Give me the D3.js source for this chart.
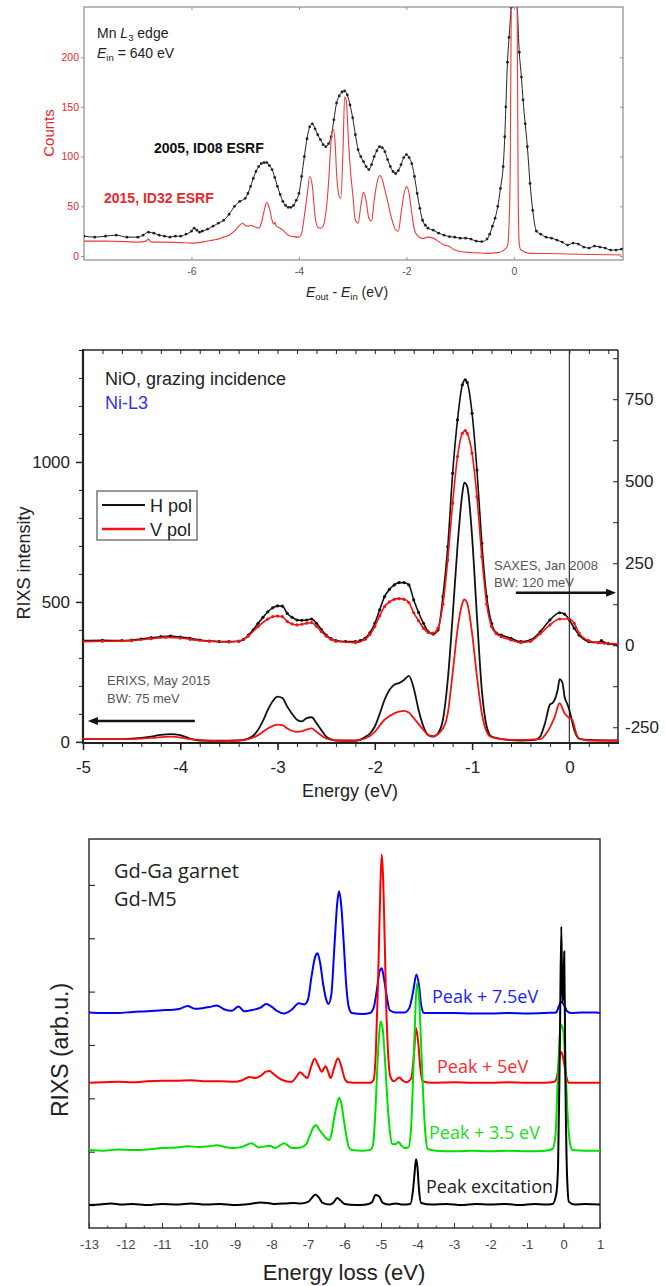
<!DOCTYPE html>
<html>
<head>
<meta charset="utf-8">
<style>
body { margin: 0; padding: 0; background: #fff; }
svg { display: block; }
text { font-family: "Liberation Sans", Arial, sans-serif; }
.cal { font-family: "Open Sans", "Noto Sans", sans-serif; }
</style>
</head>
<body>
<div id="chart"></div>
<script src="https://cdn.jsdelivr.net/npm/d3@7/dist/d3.min.js"></script>
<script>
// ---- panel 1: Mn L3, counts vs Eout-Ein ----
var p1Black = [[-8,20],[-7.8,19],[-7.6,20],[-7.4,21],[-7.2,19],[-7,19],[-6.9,21],[-6.8,24],[-6.7,23],[-6.6,21],[-6.5,20],[-6.4,19],[-6.3,20],[-6.2,20],[-6.1,22],[-6.0,25],[-5.95,28],[-5.9,26],[-5.85,24],[-5.8,25],[-5.7,27],[-5.6,30],[-5.5,33],[-5.4,36],[-5.3,42],[-5.2,50],[-5.1,55],[-5.0,58],[-4.95,63],[-4.9,70],[-4.85,78],[-4.8,85],[-4.75,90],[-4.7,93],[-4.65,94],[-4.6,94],[-4.55,91],[-4.5,87],[-4.45,79],[-4.4,70],[-4.35,62],[-4.3,55],[-4.25,51],[-4.2,49],[-4.15,49],[-4.1,51],[-4.05,56],[-4.0,63],[-3.95,80],[-3.9,100],[-3.85,118],[-3.8,130],[-3.75,133],[-3.7,128],[-3.65,122],[-3.6,117],[-3.55,112],[-3.5,110],[-3.45,113],[-3.4,120],[-3.35,137],[-3.3,154],[-3.25,161],[-3.2,165],[-3.15,166],[-3.1,162],[-3.05,152],[-3.0,139],[-2.95,122],[-2.9,107],[-2.85,100],[-2.8,95],[-2.75,90],[-2.7,87],[-2.65,92],[-2.6,100],[-2.55,106],[-2.5,110],[-2.45,109],[-2.4,105],[-2.35,97],[-2.3,90],[-2.25,85],[-2.2,83],[-2.15,86],[-2.1,92],[-2.05,99],[-2.0,102],[-1.95,99],[-1.9,93],[-1.85,80],[-1.8,63],[-1.75,48],[-1.7,36],[-1.65,31],[-1.6,28],[-1.5,26],[-1.4,23],[-1.3,21],[-1.2,19.5],[-1.1,19],[-1.0,18],[-0.9,18],[-0.8,17],[-0.7,15],[-0.6,14.5],[-0.5,17],[-0.45,22],[-0.4,30],[-0.35,38],[-0.3,50],[-0.25,68],[-0.2,90],[-0.17,120],[-0.15,150],[-0.12,195],[-0.09,220],[-0.05,250],[0.0,275],[0.05,262],[0.1,205],[0.14,180],[0.17,157],[0.21,133],[0.25,110],[0.3,73],[0.35,46],[0.42,25],[0.5,22],[0.6,19],[0.7,18],[0.8,16],[0.9,14],[1.0,11],[1.1,13],[1.2,12],[1.3,9],[1.4,8],[1.5,10],[1.6,9],[1.7,8],[1.8,6],[1.9,6],[2.0,7]];
var p1Red = [[-8,15],[-7.6,15],[-7.2,14.5],[-7,14],[-6.85,15],[-6.8,17],[-6.75,14],[-6.5,14],[-6.2,13.5],[-6.0,13],[-5.8,14],[-5.6,16],[-5.5,17],[-5.4,19],[-5.3,21],[-5.2,25],[-5.15,28],[-5.1,31],[-5.05,33],[-5.0,31],[-4.95,30],[-4.9,31],[-4.85,30],[-4.8,29],[-4.75,28],[-4.7,33],[-4.65,45],[-4.6,54],[-4.55,48],[-4.5,36],[-4.47,32],[-4.45,34],[-4.42,30],[-4.35,28],[-4.3,26],[-4.2,21],[-4.1,19.5],[-4.0,19],[-3.95,23],[-3.9,40],[-3.85,60],[-3.8,80],[-3.75,70],[-3.7,40],[-3.65,29],[-3.6,28],[-3.55,30],[-3.5,43],[-3.45,73],[-3.4,117],[-3.37,128],[-3.33,117],[-3.3,83],[-3.25,60],[-3.22,58],[-3.18,107],[-3.15,160],[-3.12,157],[-3.08,117],[-3.04,85],[-3.0,63],[-2.95,36],[-2.9,33],[-2.85,50],[-2.8,64],[-2.75,56],[-2.7,38],[-2.65,35],[-2.6,56],[-2.55,73],[-2.5,81],[-2.45,77],[-2.4,66],[-2.35,55],[-2.3,43],[-2.25,33],[-2.2,26],[-2.15,25],[-2.1,43],[-2.05,61],[-2.0,70],[-1.95,63],[-1.9,43],[-1.85,26],[-1.8,21],[-1.7,17.5],[-1.6,19],[-1.5,18],[-1.4,14.5],[-1.3,11],[-1.2,9.5],[-1.1,6],[-1.0,4.5],[-0.8,3.5],[-0.5,2.7],[-0.3,3.4],[-0.2,5.4],[-0.15,7.7],[-0.12,10],[-0.1,20],[-0.07,80],[-0.05,250],[0.0,420],[0.06,250],[0.08,60],[0.1,12],[0.13,6],[0.3,2.7],[0.6,2.5],[1.0,2],[1.5,1.5],[2.0,1]];
var p1XTicks = [-6, -4, -2, 0];
var p1YTicks = [0, 50, 100, 150, 200];

// ---- panel 2: NiO, SAXES (right axis) and ERIXS (left axis) ----
var p2SaxesH = [[-5,14],[-4.8,15],[-4.6,14],[-4.5,16],[-4.4,19],[-4.3,23],[-4.2,26],[-4.1,28],[-4.0,25],[-3.9,21],[-3.8,16],[-3.7,13],[-3.6,11],[-3.5,11],[-3.4,12],[-3.35,18],[-3.3,31],[-3.25,47],[-3.2,67],[-3.15,85],[-3.1,102],[-3.05,114],[-3.0,120],[-2.95,119],[-2.9,97],[-2.85,85],[-2.8,77],[-2.75,76],[-2.7,77],[-2.65,80],[-2.6,67],[-2.55,48],[-2.5,31],[-2.45,20],[-2.4,14],[-2.3,11],[-2.2,11],[-2.15,14],[-2.1,21],[-2.05,38],[-2.0,67],[-1.95,108],[-1.9,148],[-1.85,170],[-1.8,184],[-1.75,191],[-1.7,191],[-1.65,184],[-1.6,138],[-1.55,100],[-1.5,67],[-1.45,41],[-1.4,34],[-1.35,47],[-1.3,148],[-1.25,300],[-1.2,524],[-1.15,687],[-1.1,794],[-1.07,809],[-1.05,801],[-1.0,707],[-0.95,534],[-0.9,311],[-0.85,148],[-0.8,67],[-0.75,37],[-0.7,31],[-0.6,21],[-0.5,11],[-0.4,16],[-0.3,41],[-0.2,77],[-0.1,99],[-0.05,95],[0,77],[0.05,52],[0.1,31],[0.2,11],[0.3,8],[0.33,14],[0.36,7],[0.4,5],[0.5,0]];
var p2SaxesV = [[-5,11],[-4.8,12],[-4.5,14],[-4.3,20],[-4.15,24],[-4.0,22],[-3.9,18],[-3.7,12],[-3.5,10],[-3.4,13],[-3.3,28],[-3.2,57],[-3.1,80],[-3.05,87],[-3.0,89],[-2.95,87],[-2.9,72],[-2.85,65],[-2.8,62],[-2.75,64],[-2.7,67],[-2.65,69],[-2.6,58],[-2.55,42],[-2.5,28],[-2.45,18],[-2.4,12],[-2.2,8],[-2.1,18],[-2.05,33],[-2.0,57],[-1.95,90],[-1.9,118],[-1.85,132],[-1.8,140],[-1.75,142],[-1.7,140],[-1.65,130],[-1.6,99],[-1.55,75],[-1.5,52],[-1.45,39],[-1.4,37],[-1.35,52],[-1.3,125],[-1.25,260],[-1.2,433],[-1.15,575],[-1.1,646],[-1.07,654],[-1.05,646],[-1.0,585],[-0.95,453],[-0.9,270],[-0.85,125],[-0.8,57],[-0.75,35],[-0.7,26],[-0.6,16],[-0.5,8],[-0.4,12],[-0.3,35],[-0.2,62],[-0.1,80],[0,80],[0.05,67],[0.1,37],[0.2,14],[0.3,8],[0.5,4]];
var p2ErixsH = [[-5,9.5],[-4.8,10],[-4.6,10],[-4.4,14],[-4.3,19],[-4.2,25],[-4.1,28],[-4.0,24],[-3.9,12],[-3.8,5],[-3.6,4],[-3.4,5],[-3.3,12],[-3.25,22],[-3.2,43],[-3.15,75],[-3.1,114],[-3.05,145],[-3.0,162],[-2.95,157],[-2.9,126],[-2.85,100],[-2.8,79],[-2.75,73],[-2.7,85],[-2.65,88],[-2.6,67],[-2.55,42],[-2.5,19],[-2.45,9],[-2.4,5],[-2.2,4],[-2.15,8],[-2.1,17],[-2.05,30],[-2.0,55],[-1.95,100],[-1.9,150],[-1.85,185],[-1.8,204],[-1.75,210],[-1.7,221],[-1.65,236],[-1.6,192],[-1.55,114],[-1.5,55],[-1.45,24],[-1.4,19],[-1.35,31],[-1.3,79],[-1.25,221],[-1.2,448],[-1.15,698],[-1.1,888],[-1.08,926],[-1.05,912],[-1.0,733],[-0.95,448],[-0.9,186],[-0.85,55],[-0.8,19],[-0.7,10],[-0.5,5],[-0.35,7],[-0.3,19],[-0.25,67],[-0.2,133],[-0.17,140],[-0.14,160],[-0.12,186],[-0.1,224],[-0.07,210],[-0.05,162],[-0.02,135],[0,114],[0.05,43],[0.1,12],[0.2,7],[0.5,5]];
var p2ErixsV = [[-5,11],[-4.7,10],[-4.5,10],[-4.3,14],[-4.1,19],[-3.9,10],[-3.6,3],[-3.4,5],[-3.3,10],[-3.2,24],[-3.1,48],[-3.0,62],[-2.95,60],[-2.9,48],[-2.8,36],[-2.75,38],[-2.7,44],[-2.65,48],[-2.6,36],[-2.5,12],[-2.4,5],[-2.2,5],[-2.1,12],[-2.0,36],[-1.9,79],[-1.8,102],[-1.75,108],[-1.7,111],[-1.65,105],[-1.6,85],[-1.5,43],[-1.45,24],[-1.4,21],[-1.3,48],[-1.25,102],[-1.2,245],[-1.15,400],[-1.1,495],[-1.08,509],[-1.05,495],[-1.0,388],[-0.95,233],[-0.9,102],[-0.85,36],[-0.8,17],[-0.6,7],[-0.3,10],[-0.25,24],[-0.2,51],[-0.15,90],[-0.1,138],[-0.05,102],[0,85],[0.03,79],[0.07,31],[0.1,12],[0.2,5],[0.5,4]];
var p2XLabels = [-5, -4, -3, -2, -1, 0];
var p2LeftLabels = [0, 500, 1000];
var p2RightLabels = [-250, 0, 250, 500, 750];

// ---- panel 3: Gd-Ga garnet, offset spectra (arb. u.) ----
var p3Black = [[-13,0],[-12.7,0.01],[-12.4,0.03],[-12.1,0.01],[-11.8,0.02],[-11.4,0],[-11,0.02],[-10.6,0.01],[-10.2,0.03],[-9.8,0.01],[-9.4,0.02],[-9,0],[-8.6,0.02],[-8.3,0.05],[-8.1,0.04],[-7.9,0.02],[-7.6,0.03],[-7.4,0.04],[-7.2,0.03],[-7.0,0.06],[-6.9,0.13],[-6.8,0.2],[-6.7,0.14],[-6.6,0.04],[-6.4,0.01],[-6.3,0.05],[-6.2,0.13],[-6.1,0.08],[-6.0,0.02],[-5.7,0],[-5.4,0.01],[-5.25,0.05],[-5.15,0.19],[-5.05,0.16],[-4.95,0.04],[-4.8,0.01],[-4.6,0.03],[-4.4,0.01],[-4.2,0.02],[-4.12,0.3],[-4.08,0.6],[-4.04,0.86],[-4.0,0.7],[-3.96,0.3],[-3.9,0.04],[-3.6,0.01],[-3.2,0.02],[-2.8,0],[-2.4,0.02],[-2.0,0.01],[-1.6,0.02],[-1.2,0],[-0.8,0.02],[-0.5,0.01],[-0.3,0.02],[-0.2,0.2],[-0.15,0.7],[-0.1,3.0],[-0.06,5.22],[-0.03,3.8],[0.0,4.1],[0.02,4.75],[0.05,2.5],[0.1,0.5],[0.15,0.06],[0.3,0.01],[0.6,0.02],[1,0.01]];
var p3Green = [[-13,1.03],[-12.6,1.02],[-12.2,1.04],[-11.8,1.03],[-11.4,1.04],[-11.0,1.07],[-10.6,1.08],[-10.3,1.1],[-10.0,1.09],[-9.7,1.1],[-9.5,1.12],[-9.2,1.08],[-9.0,1.07],[-8.8,1.09],[-8.55,1.16],[-8.35,1.08],[-8.05,1.11],[-7.9,1.07],[-7.65,1.16],[-7.45,1.07],[-7.2,1.08],[-7.05,1.14],[-6.95,1.3],[-6.85,1.46],[-6.78,1.5],[-6.7,1.42],[-6.6,1.33],[-6.5,1.25],[-6.42,1.22],[-6.35,1.35],[-6.28,1.65],[-6.2,1.9],[-6.15,2.01],[-6.08,1.88],[-6.02,1.6],[-5.95,1.3],[-5.88,1.08],[-5.8,1.03],[-5.5,1.02],[-5.3,1.03],[-5.22,1.12],[-5.15,1.8],[-5.1,2.6],[-5.05,3.2],[-5.01,3.44],[-4.95,3.28],[-4.88,2.6],[-4.82,1.9],[-4.76,1.4],[-4.7,1.15],[-4.6,1.14],[-4.52,1.18],[-4.45,1.12],[-4.35,1.07],[-4.25,1.08],[-4.18,1.4],[-4.12,2.4],[-4.07,3.4],[-4.02,4.15],[-3.96,3.9],[-3.9,3.0],[-3.84,2.0],[-3.78,1.3],[-3.72,1.05],[-3.5,1.02],[-3,1.01],[-2.5,1.02],[-2,1.01],[-1.5,1.02],[-1,1.01],[-0.5,1.02],[-0.3,1.05],[-0.22,1.3],[-0.16,2.3],[-0.1,3.2],[-0.06,3.38],[0,3.22],[0.06,2.5],[0.12,1.6],[0.18,1.15],[0.25,1.03],[0.6,1.02],[1,1.02]];
var p3Red = [[-13,2.29],[-12.6,2.3],[-12.2,2.31],[-11.8,2.3],[-11.4,2.32],[-11,2.33],[-10.6,2.33],[-10.2,2.34],[-9.8,2.32],[-9.4,2.32],[-9,2.31],[-8.8,2.34],[-8.6,2.4],[-8.45,2.38],[-8.3,2.42],[-8.15,2.5],[-8.05,2.51],[-7.95,2.46],[-7.8,2.38],[-7.6,2.32],[-7.45,2.31],[-7.3,2.42],[-7.22,2.49],[-7.1,2.42],[-7.02,2.38],[-6.92,2.58],[-6.82,2.74],[-6.72,2.62],[-6.62,2.5],[-6.52,2.6],[-6.45,2.5],[-6.38,2.38],[-6.28,2.58],[-6.18,2.75],[-6.08,2.58],[-6,2.38],[-5.9,2.3],[-5.6,2.29],[-5.3,2.29],[-5.2,2.35],[-5.14,2.9],[-5.08,4.2],[-5.02,5.9],[-4.98,6.57],[-4.94,6.1],[-4.9,5.0],[-4.86,3.8],[-4.81,2.9],[-4.75,2.42],[-4.65,2.32],[-4.5,2.39],[-4.4,2.33],[-4.3,2.3],[-4.17,2.38],[-4.1,2.8],[-4.04,3.32],[-3.98,3.05],[-3.92,2.55],[-3.86,2.32],[-3.6,2.29],[-3,2.3],[-2.5,2.29],[-2,2.29],[-1.5,2.3],[-1,2.29],[-0.5,2.29],[-0.25,2.31],[-0.18,2.4],[-0.12,2.71],[-0.07,2.87],[-0.02,2.8],[0.03,2.6],[0.08,2.4],[0.15,2.29],[0.5,2.29],[1,2.29]];
var p3Blue = [[-13,3.61],[-12.6,3.6],[-12.2,3.6],[-11.8,3.62],[-11.4,3.63],[-11,3.65],[-10.7,3.66],[-10.5,3.68],[-10.3,3.73],[-10.1,3.68],[-9.9,3.69],[-9.7,3.71],[-9.5,3.74],[-9.3,3.67],[-9.1,3.64],[-8.9,3.72],[-8.75,3.63],[-8.5,3.66],[-8.3,3.7],[-8.15,3.77],[-8.0,3.72],[-7.85,3.64],[-7.65,3.59],[-7.45,3.66],[-7.25,3.78],[-7.1,3.76],[-7.0,3.85],[-6.9,4.3],[-6.8,4.66],[-6.74,4.72],[-6.67,4.55],[-6.58,4.12],[-6.5,3.85],[-6.44,3.77],[-6.36,3.95],[-6.28,4.8],[-6.2,5.65],[-6.15,5.88],[-6.09,5.62],[-6.02,4.9],[-5.95,4.1],[-5.88,3.7],[-5.8,3.6],[-5.5,3.58],[-5.3,3.6],[-5.2,3.7],[-5.12,4.0],[-5.04,4.38],[-4.98,4.44],[-4.92,4.25],[-4.84,3.9],[-4.76,3.65],[-4.6,3.61],[-4.35,3.61],[-4.22,3.7],[-4.12,4.0],[-4.03,4.32],[-3.96,4.12],[-3.9,3.75],[-3.82,3.6],[-3.5,3.6],[-3,3.6],[-2.5,3.59],[-2,3.59],[-1.5,3.6],[-1,3.59],[-0.5,3.6],[-0.2,3.61],[-0.13,3.72],[-0.06,3.81],[0.02,3.74],[0.1,3.63],[0.2,3.6],[0.5,3.61],[0.9,3.61],[1,3.6]];
var p3XLabels = [-13, -12, -11, -10, -9, -8, -7, -6, -5, -4, -3, -2, -1, 0, 1];
var p3YTicks = [0, 1, 2, 3, 4, 5, 6];

var svg = d3.select("#chart").append("svg").attr("width", 665).attr("height", 1286)
    .style("background", "#fff");

var plain = d => String(d);   // ascii hyphen, no thousands comma

function curveLine(g, data, x, y, color, width) {
    var line = d3.line().x(d => x(d[0])).y(d => y(d[1])).curve(d3.curveMonotoneX);
    return g.append("path").datum(data).attr("d", line)
        .attr("fill", "none").attr("stroke", color).attr("stroke-width", width)
        .attr("stroke-linejoin", "round");
}
function dots(g, data, x, y, color, r) {
    g.selectAll(null).data(data).enter().append("circle")
        .attr("cx", d => x(d[0])).attr("cy", d => y(d[1])).attr("r", r).attr("fill", color);
}
function styleAxis(a, color, size) {
    a.select(".domain").remove();
    a.selectAll("line").attr("stroke", color);
    a.selectAll("text").style("font-size", size).attr("font-family", null);
}
function arrow(g, xa, ya, xb, yb) {
    var ang = Math.atan2(yb - ya, xb - xa), L = 10, Wd = 4;
    g.append("line").attr("x1", xa).attr("y1", ya)
        .attr("x2", xb - Math.cos(ang) * L * 0.8).attr("y2", yb - Math.sin(ang) * L * 0.8)
        .attr("stroke", "#111").attr("stroke-width", 2.5);
    var p = d3.path();
    p.moveTo(xb, yb);
    p.lineTo(xb - Math.cos(ang) * L - Math.sin(ang) * Wd, yb - Math.sin(ang) * L + Math.cos(ang) * Wd);
    p.lineTo(xb - Math.cos(ang) * L + Math.sin(ang) * Wd, yb - Math.sin(ang) * L - Math.cos(ang) * Wd);
    p.closePath();
    g.append("path").attr("d", p.toString()).attr("fill", "#111");
}

// ================= panel 1 =================
(function () {
    var x = d3.scaleLinear().domain([-8, 2.03]).range([84, 623]);
    var y = d3.scaleLinear().domain([-4, 250.5]).range([260, 7]);
    var g = svg.append("g");
    g.append("clipPath").attr("id", "clip1").append("rect")
        .attr("x", 84).attr("y", 7).attr("width", 539).attr("height", 253);

    var ax = g.append("g").attr("transform", "translate(0,260)")
        .call(d3.axisBottom(x).tickValues(p1XTicks).tickSize(-3).tickPadding(8).tickFormat(plain));
    styleAxis(ax, "#999", "10.5px");
    ax.selectAll("text").attr("fill", "#555");
    var at = g.append("g").attr("transform", "translate(0,7)")
        .call(d3.axisTop(x).tickValues(p1XTicks).tickSize(-3).tickFormat(""));
    styleAxis(at, "#999", "10px");
    var ay = g.append("g").attr("transform", "translate(84,0)")
        .call(d3.axisLeft(y).tickValues(p1YTicks).tickSize(3).tickPadding(2).tickFormat(plain));
    styleAxis(ay, "#999", "10.5px");
    ay.selectAll("text").attr("fill", "#e8282b");
    var ar = g.append("g").attr("transform", "translate(623,0)")
        .call(d3.axisRight(y).tickValues(p1YTicks).tickSize(-3).tickFormat(""));
    styleAxis(ar, "#999", "10px");
    g.append("rect").attr("x", 84).attr("y", 7).attr("width", 539).attr("height", 253)
        .attr("fill", "none").attr("stroke", "#8a8a8a").attr("stroke-width", 1.2);

    var plot = g.append("g").attr("clip-path", "url(#clip1)");
    curveLine(plot, p1Black, x, y, "#222", 1);
    dots(plot, p1Black, x, y, "#222", 1.4);
    curveLine(plot, p1Red, x, y, "#f03a3a", 1.1);

    var t = g.append("text").attr("x", 97).attr("y", 38).style("font-size", "14px").attr("fill", "#222");
    t.append("tspan").text("Mn ");
    t.append("tspan").style("font-style", "italic").text("L");
    t.append("tspan").attr("dy", 3).style("font-size", "9.5px").text("3");
    t.append("tspan").attr("dy", -3).text(" edge");
    var t2 = g.append("text").attr("x", 97).attr("y", 58).style("font-size", "14px").attr("fill", "#222");
    t2.append("tspan").style("font-style", "italic").text("E");
    t2.append("tspan").attr("dy", 3).style("font-size", "9.5px").text("in");
    t2.append("tspan").attr("dy", -3).text(" = 640 eV");

    g.append("text").attr("x", 154).attr("y", 153).style("font-size", "14px")
        .style("font-weight", "bold").attr("fill", "#111").text("2005, ID08 ESRF");
    g.append("text").attr("x", 104).attr("y", 203).style("font-size", "14px")
        .style("font-weight", "bold").attr("fill", "#e8282b").text("2015, ID32 ESRF");

    g.append("text").attr("transform", "translate(54,133) rotate(-90)").attr("text-anchor", "middle")
        .style("font-size", "15px").attr("fill", "#e8282b").text("Counts");
    var xt = g.append("text").attr("x", 347).attr("y", 297).attr("text-anchor", "middle")
        .style("font-size", "14px").attr("fill", "#222");
    xt.append("tspan").style("font-style", "italic").text("E");
    xt.append("tspan").attr("dy", 3).style("font-size", "9.5px").text("out");
    xt.append("tspan").attr("dy", -3).text(" - ");
    xt.append("tspan").style("font-style", "italic").text("E");
    xt.append("tspan").attr("dy", 3).style("font-size", "9.5px").text("in");
    xt.append("tspan").attr("dy", -3).text(" (eV)");
})();

// ================= panel 2 =================
(function () {
    var x = d3.scaleLinear().domain([-5, 0.5]).range([83, 618]);
    var yL = d3.scaleLinear().domain([-4, 1400]).range([743, 350]);
    var yR = d3.scaleLinear().domain([-298, 900]).range([743, 350]);
    var g = svg.append("g");
    g.append("clipPath").attr("id", "clip2").append("rect")
        .attr("x", 83).attr("y", 350).attr("width", 535).attr("height", 393);

    var minorX = d3.range(-25, 3).map(i => i / 5);
    var axm = g.append("g").attr("transform", "translate(0,743)")
        .call(d3.axisBottom(x).tickValues(minorX).tickSize(4).tickFormat(""));
    styleAxis(axm, "#222", "10px");
    var ax = g.append("g").attr("transform", "translate(0,743)")
        .call(d3.axisBottom(x).tickValues(p2XLabels).tickSize(7).tickPadding(11).tickFormat(plain));
    styleAxis(ax, "#222", "17px");
    ax.selectAll("line").attr("stroke-width", 1.5);
    ax.selectAll("text").attr("fill", "#222");
    var at = g.append("g").attr("transform", "translate(0,350)")
        .call(d3.axisTop(x).tickValues(minorX).tickSize(-4).tickFormat(""));
    styleAxis(at, "#222", "10px");

    var minorL = d3.range(0, 15).map(i => i * 100);
    var aym = g.append("g").attr("transform", "translate(83,0)")
        .call(d3.axisLeft(yL).tickValues(minorL).tickSize(4).tickFormat(""));
    styleAxis(aym, "#222", "10px");
    var ay = g.append("g").attr("transform", "translate(83,0)")
        .call(d3.axisLeft(yL).tickValues(p2LeftLabels).tickSize(7).tickPadding(6).tickFormat(plain));
    styleAxis(ay, "#222", "17px");
    ay.selectAll("line").attr("stroke-width", 1.5);
    ay.selectAll("text").attr("fill", "#222");

    var minorR = d3.range(-2, 8).map(i => i * 125);
    var ar = g.append("g").attr("transform", "translate(618,0)")
        .call(d3.axisRight(yR).tickValues(minorR).tickSize(-5).tickFormat(""));
    styleAxis(ar, "#222", "10px");
    var arl = g.append("g").attr("transform", "translate(618,0)")
        .call(d3.axisRight(yR).tickValues(p2RightLabels).tickSize(0).tickPadding(7).tickFormat(plain));
    styleAxis(arl, "#222", "17px");
    arl.selectAll("text").attr("fill", "#222");

    // frame
    g.append("line").attr("x1", 83).attr("x2", 618).attr("y1", 350).attr("y2", 350).attr("stroke", "#222").attr("stroke-width", 1.5);
    g.append("line").attr("x1", 618).attr("x2", 618).attr("y1", 350).attr("y2", 743).attr("stroke", "#222").attr("stroke-width", 1.5);
    g.append("line").attr("x1", 83).attr("x2", 83).attr("y1", 349).attr("y2", 744).attr("stroke", "#222").attr("stroke-width", 2.2);
    g.append("line").attr("x1", 82).attr("x2", 619).attr("y1", 743).attr("y2", 743).attr("stroke", "#222").attr("stroke-width", 2.2);
    g.append("line").attr("x1", x(0)).attr("x2", x(0)).attr("y1", 350).attr("y2", 743).attr("stroke", "#333").attr("stroke-width", 1.2);

    var plot = g.append("g").attr("clip-path", "url(#clip2)");
    curveLine(plot, p2SaxesH, x, yR, "#111", 1.6);
    dots(plot, p2SaxesH, x, yR, "#111", 1.6);
    curveLine(plot, p2SaxesV, x, yR, "#f01515", 1.6);
    dots(plot, p2SaxesV, x, yR, "#f01515", 1.6);
    curveLine(plot, p2ErixsH, x, yL, "#111", 1.8);
    curveLine(plot, p2ErixsV, x, yL, "#f01515", 1.8);

    g.append("text").attr("x", 105).attr("y", 385).style("font-size", "18px").attr("fill", "#222")
        .text("NiO, grazing incidence");
    g.append("text").attr("x", 105).attr("y", 409).style("font-size", "18px").attr("fill", "#3333ee")
        .text("Ni-L3");

    // legend
    g.append("rect").attr("x", 97).attr("y", 491).attr("width", 100).attr("height", 49)
        .attr("fill", "#fff").attr("stroke", "#777").attr("stroke-width", 1.5);
    g.append("line").attr("x1", 102).attr("x2", 145).attr("y1", 505).attr("y2", 505).attr("stroke", "#111").attr("stroke-width", 2);
    g.append("line").attr("x1", 102).attr("x2", 145).attr("y1", 529).attr("y2", 529).attr("stroke", "#f01515").attr("stroke-width", 2.5);
    g.append("text").attr("x", 150).attr("y", 512).style("font-size", "18px").attr("fill", "#222").text("H pol");
    g.append("text").attr("x", 150).attr("y", 536).style("font-size", "18px").attr("fill", "#222").text("V pol");

    g.append("text").attr("x", 494).attr("y", 570).style("font-size", "13px").attr("fill", "#555").text("SAXES, Jan 2008");
    g.append("text").attr("x", 494).attr("y", 587).style("font-size", "13px").attr("fill", "#555").text("BW: 120 meV");
    arrow(g, x(-0.55), yR(160), x(0.48), yR(160));
    g.append("text").attr("x", 107).attr("y", 685).style("font-size", "13px").attr("fill", "#555").text("ERIXS, May 2015");
    g.append("text").attr("x", 107).attr("y", 703).style("font-size", "13px").attr("fill", "#555").text("BW: 75 meV");
    arrow(g, x(-3.85), yL(75), x(-4.95), yL(75));

    g.append("text").attr("transform", "translate(30,563) rotate(-90)").attr("text-anchor", "middle")
        .style("font-size", "18px").attr("fill", "#222").text("RIXS intensity");
    g.append("text").attr("x", 350).attr("y", 797).attr("text-anchor", "middle")
        .style("font-size", "18px").attr("fill", "#222").text("Energy (eV)");
})();

// ================= panel 3 =================
(function () {
    var x = d3.scaleLinear().domain([-13, 1]).range([89, 600]);
    var y = d3.scaleLinear().domain([-0.43, 6.86]).range([1228, 839]);
    var g = svg.append("g");
    g.append("clipPath").attr("id", "clip3").append("rect")
        .attr("x", 89).attr("y", 839).attr("width", 511).attr("height", 389);

    var minorX = d3.range(-26, 3).map(i => i / 2);
    var axm = g.append("g").attr("transform", "translate(0,1228)")
        .call(d3.axisBottom(x).tickValues(minorX).tickSize(-2.5).tickFormat(""));
    styleAxis(axm, "#333", "10px");
    var ax = g.append("g").attr("transform", "translate(0,1228)")
        .call(d3.axisBottom(x).tickValues(p3XLabels).tickSize(-5).tickPadding(12).tickFormat(plain));
    styleAxis(ax, "#333", "13px");
    ax.selectAll("text").attr("fill", "#444");
    var ay = g.append("g").attr("transform", "translate(89,0)")
        .call(d3.axisLeft(y).tickValues(p3YTicks).tickSize(-6).tickFormat(""));
    styleAxis(ay, "#333", "10px");
    ay.selectAll("line").attr("stroke-width", 1.2);
    g.append("rect").attr("x", 89).attr("y", 839).attr("width", 511).attr("height", 389)
        .attr("fill", "none").attr("stroke", "#333").attr("stroke-width", 1.5);

    var plot = g.append("g").attr("clip-path", "url(#clip3)");
    curveLine(plot, p3Blue, x, y, "#0000ff", 2);
    curveLine(plot, p3Red, x, y, "#ff0000", 2);
    curveLine(plot, p3Green, x, y, "#00e000", 2);
    curveLine(plot, p3Black, x, y, "#000", 2);

    g.append("text").attr("class", "cal").attr("x", 114).attr("y", 878).style("font-size", "20px").attr("fill", "#222").text("Gd-Ga garnet");
    g.append("text").attr("class", "cal").attr("x", 114).attr("y", 906).style("font-size", "20px").attr("fill", "#222").text("Gd-M5");
    g.append("text").attr("class", "cal").attr("x", 432).attr("y", 1003).style("font-size", "18px").attr("fill", "#2222ff").text("Peak + 7.5eV");
    g.append("text").attr("class", "cal").attr("x", 437).attr("y", 1073).style("font-size", "18px").attr("fill", "#ff2a2a").text("Peak + 5eV");
    g.append("text").attr("class", "cal").attr("x", 429).attr("y", 1139).style("font-size", "18px").attr("fill", "#22dd22").text("Peak + 3.5 eV");
    g.append("text").attr("class", "cal").attr("x", 426).attr("y", 1193).style("font-size", "18px").attr("fill", "#222").text("Peak excitation");

    g.append("text").attr("transform", "translate(68,1050) rotate(-90)").attr("text-anchor", "middle")
        .style("font-size", "23px").attr("fill", "#222").text("RIXS (arb.u.)");
    g.append("text").attr("x", 344).attr("y", 1280).attr("text-anchor", "middle")
        .style("font-size", "22px").attr("fill", "#222").text("Energy loss (eV)");
})();
</script>
</body>
</html>
